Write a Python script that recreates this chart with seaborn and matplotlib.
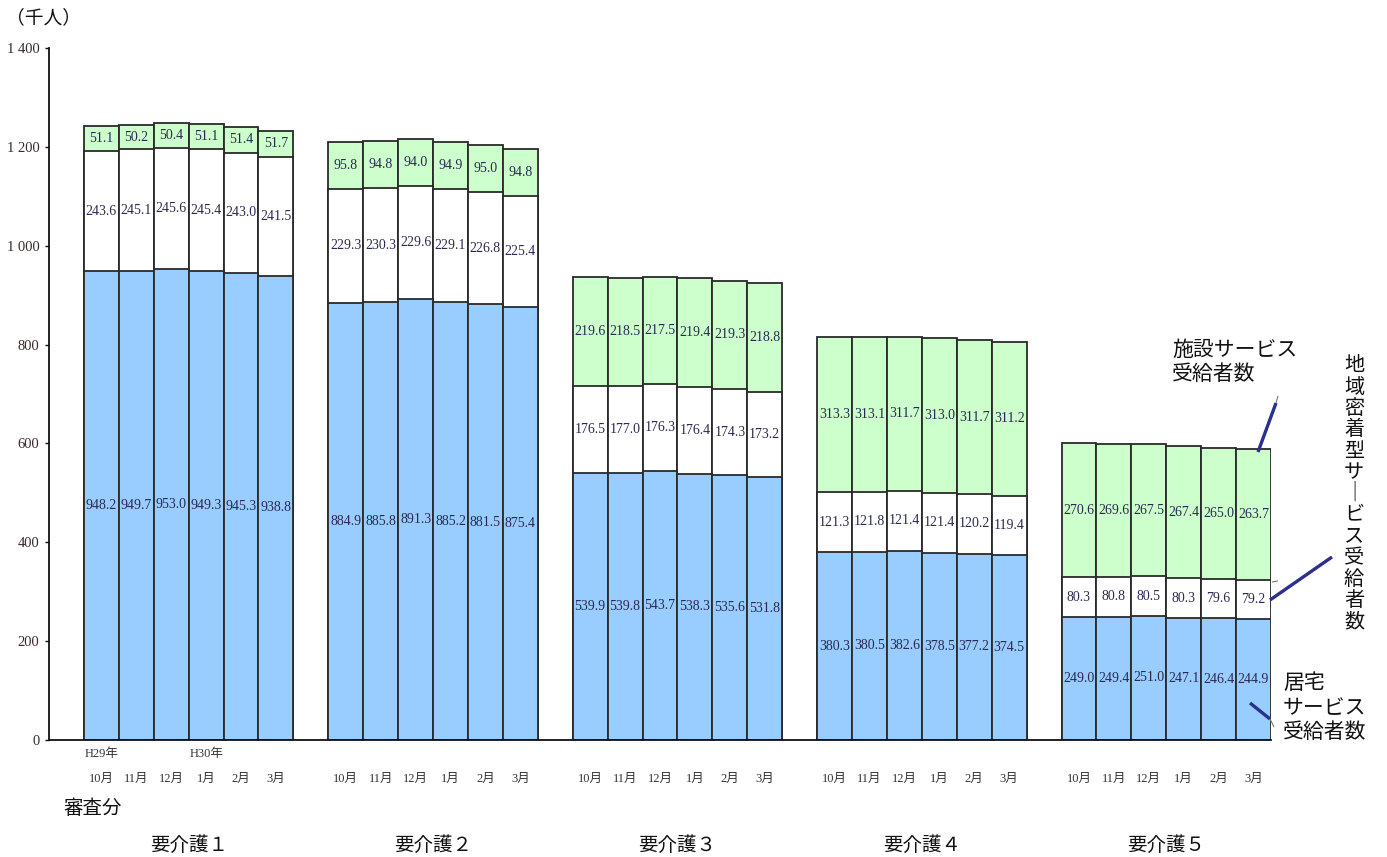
import numpy as np
import pandas as pd
import matplotlib
matplotlib.use("Agg")
import matplotlib.pyplot as plt
from matplotlib.lines import Line2D
import seaborn as sns

# ---- data ----
groups = ["要介護１", "要介護２", "要介護３", "要介護４", "要介護５"]
months = ["10月", "11月", "12月", "1月", "2月", "3月"]
kyotaku = [  # 居宅サービス受給者数
    948.2, 949.7, 953.0, 949.3, 945.3, 938.8,
    884.9, 885.8, 891.3, 885.2, 881.5, 875.4,
    539.9, 539.8, 543.7, 538.3, 535.6, 531.8,
    380.3, 380.5, 382.6, 378.5, 377.2, 374.5,
    249.0, 249.4, 251.0, 247.1, 246.4, 244.9,
]
chiiki = [  # 地域密着型サービス受給者数
    243.6, 245.1, 245.6, 245.4, 243.0, 241.5,
    229.3, 230.3, 229.6, 229.1, 226.8, 225.4,
    176.5, 177.0, 176.3, 176.4, 174.3, 173.2,
    121.3, 121.8, 121.4, 121.4, 120.2, 119.4,
    80.3, 80.8, 80.5, 80.3, 79.6, 79.2,
]
shisetsu = [  # 施設サービス受給者数
    51.1, 50.2, 50.4, 51.1, 51.4, 51.7,
    95.8, 94.8, 94.0, 94.9, 95.0, 94.8,
    219.6, 218.5, 217.5, 219.4, 219.3, 218.8,
    313.3, 313.1, 311.7, 313.0, 311.7, 311.2,
    270.6, 269.6, 267.5, 267.4, 265.0, 263.7,
]
yticks = [0, 200, 400, 600, 800, 1000, 1200, 1400]
ytick_labels = ["0", "200", "400", "600", "800", "1 000", "1 200", "1 400"]

# ---- table ----
pos = []
for g in range(len(groups)):
    for m in range(len(months)):
        pos.append(g * 7 + m + 1)
df = pd.DataFrame({
    "pos": pos,
    "group": np.repeat(groups, len(months)),
    "month": months * len(groups),
    "kyotaku": kyotaku, "chiiki": chiiki, "shisetsu": shisetsu,
})
df["c1"] = df["kyotaku"]
df["c2"] = df["kyotaku"] + df["chiiki"]
df["c3"] = df["c2"] + df["shisetsu"]

sns.set_theme(style="ticks")
plt.rcParams["font.family"] = ["Liberation Serif", "Noto Sans CJK JP"]
JP = ["Noto Sans CJK JP", "DejaVu Sans"]

W, H = 1387, 857
fig = plt.figure(figsize=(W / 100, H / 100), dpi=100)
ax = fig.add_axes([49 / W, 1 - 740 / H, (1271 - 49) / W, (740 - 48) / H])

BLUE, GREEN, WHITE = "#99CCFF", "#CCFFCC", "#FFFFFF"
EDGE = "#2a2a2a"
common = dict(x="pos", native_scale=True, width=1.0, saturation=1,
              errorbar=None, edgecolor=EDGE, linewidth=1.3, ax=ax)
sns.barplot(data=df, y="c3", color=GREEN, **common)
sns.barplot(data=df, y="c2", color=WHITE, **common)
sns.barplot(data=df, y="c1", color=BLUE, **common)

ax.set_xlim(-0.5, 34.5)
ax.set_ylim(0, 1400)
ax.set_xlabel("")
ax.set_ylabel("")
sns.despine(ax=ax)
for s in ["left", "bottom"]:
    ax.spines[s].set_color("#111111")
    ax.spines[s].set_linewidth(1.3)

ax.set_yticks(yticks)
ax.set_yticklabels(ytick_labels, fontsize=10.5, color="#3a2a2a")
ax.tick_params(axis="y", length=3, width=1, color="#111111", pad=4)
ax.set_xticks(df["pos"])
ax.set_xticklabels(df["month"], fontsize=9, color="#333333")
ax.tick_params(axis="x", length=0, pad=24)

# value labels
TXT = "#2a2a50"
for _, r in df.iterrows():
    ax.text(r["pos"], r["c1"] / 2, f"{r['kyotaku']:.1f}", ha="center", va="center",
            fontsize=10, color=TXT)
    ax.text(r["pos"], (r["c1"] + r["c2"]) / 2, f"{r['chiiki']:.1f}", ha="center",
            va="center", fontsize=10, color=TXT)
    ax.text(r["pos"], (r["c2"] + r["c3"]) / 2, f"{r['shisetsu']:.1f}", ha="center",
            va="center", fontsize=10, color=TXT)

# year markers
ax.text(1, -0.012, "H29年", transform=ax.get_xaxis_transform(), ha="center", va="top",
        fontsize=9, color="#333333")
ax.text(4, -0.012, "H30年", transform=ax.get_xaxis_transform(), ha="center", va="top",
        fontsize=9, color="#333333")

# group labels
for g, name in enumerate(groups):
    ax.text(g * 7 + 3.5, -0.152, name, transform=ax.get_xaxis_transform(),
            ha="center", va="center", fontsize=14, family=JP, color="#111111")

def ftext(x, y, s, **kw):
    fig.text(x / W, 1 - y / H, s, family=JP, color="#111111", **kw)

ftext(93, 808, "審査分", ha="center", va="center", fontsize=14)
ftext(6, 18, "（千人）", ha="left", va="center", fontsize=13.5)

# right-side annotations
ftext(1172, 350, "施設サービス", ha="left", va="center", fontsize=15)
ftext(1172, 374, "受給者数", ha="left", va="center", fontsize=15)
vert = "地域密着型サ｜ビス受給者数"
for i, ch in enumerate(vert):
    ftext(1354, 366 + i * 21.3, ch, ha="center", va="center", fontsize=14.5)
ftext(1283, 683, "居宅", ha="left", va="center", fontsize=15)
ftext(1283, 708, "サービス", ha="left", va="center", fontsize=15)
ftext(1283, 732, "受給者数", ha="left", va="center", fontsize=15)

def fline(x0, y0, x1, y1, color, lw):
    fig.add_artist(Line2D([x0 / W, x1 / W], [1 - y0 / H, 1 - y1 / H],
                          color=color, lw=lw, transform=fig.transFigure,
                          solid_capstyle="butt"))

NAVY = "#2B2F8E"
fline(1258, 452, 1276, 403, NAVY, 2.4)
fline(1276, 403, 1278, 396, "#777777", 0.8)
fline(1270, 600, 1332, 557, NAVY, 2.4)
fline(1272, 582, 1278, 581, "#777777", 0.8)
fline(1250, 703, 1270, 719, NAVY, 2.4)
fline(1270, 719, 1274, 727, "#777777", 0.8)

fig.savefig("out.png", dpi=100)
